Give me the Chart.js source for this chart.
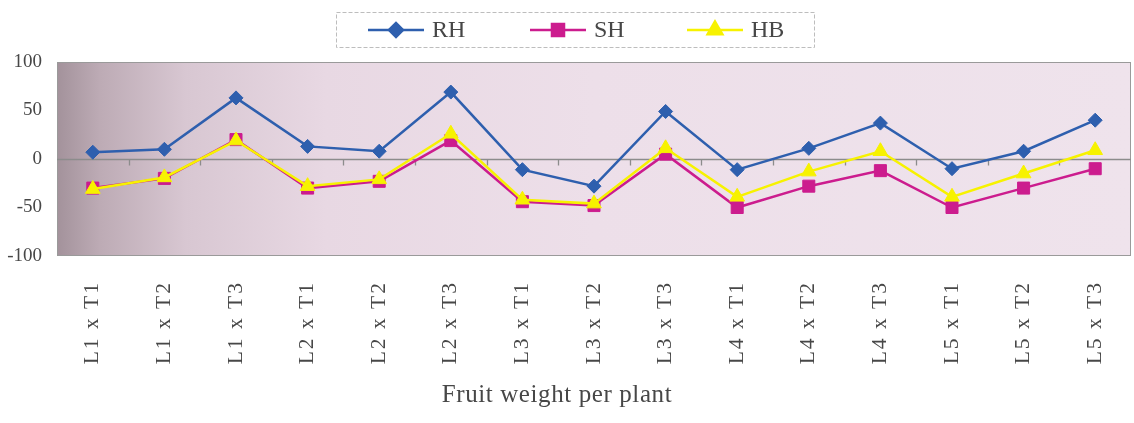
<!DOCTYPE html>
<html>
<head>
<meta charset="utf-8">
<title>Fruit weight per plant</title>
<script src="https://cdn.jsdelivr.net/npm/chart.js@4/dist/chart.umd.min.js"></script>
<style>
  html, body { margin: 0; padding: 0; background: #ffffff; }
  canvas { display: block; }
</style>
</head>
<body>
<canvas id="chart" width="1134" height="423"></canvas>
<script>
// Crosses (line x tester)
const categories = ['L1 x T1', 'L1 x T2', 'L1 x T3', 'L2 x T1', 'L2 x T2', 'L2 x T3',
                    'L3 x T1', 'L3 x T2', 'L3 x T3', 'L4 x T1', 'L4 x T2', 'L4 x T3',
                    'L5 x T1', 'L5 x T2', 'L5 x T3'];
// Heterosis (%) over relative, standard and better parent
const rhValues = [7, 10, 63, 13, 8, 69, -11, -28, 49, -11, 11, 37, -10, 8, 40];
const shValues = [-30, -20, 20, -30, -23, 19, -44, -48, 5, -50, -28, -12, -50, -30, -10];
const hbValues = [-31, -19, 19, -28, -21, 26, -42, -46, 11, -39, -13, 8, -39, -15, 9];
const seriesNames = ['RH', 'SH', 'HB'];
const yTicks = [-100, -50, 0, 50, 100];
const axisTitle = 'Fruit weight per plant';

const SERIF = '"Liberation Serif", "Times New Roman", serif';
const TEXT = '#474747';

const series = [
  { label: seriesNames[0], data: rhValues, color: '#2e5fae', pointStyle: 'rectRot', pointRadius: 7, order: 3 },
  { label: seriesNames[1], data: shValues, color: '#cc1c8e', pointStyle: 'rect', pointRadius: 8.5, order: 2 },
  { label: seriesNames[2], data: hbValues, color: '#f7f200', pointStyle: 'triangle', pointRadius: 8.5, order: 1 }
];

// Shaded plot area, frame and zero line with category ticks
const plotBackdrop = {
  id: 'plotBackdrop',
  beforeDatasetsDraw(chart) {
    const { ctx, chartArea: a, scales } = chart;
    ctx.save();
    const g = ctx.createLinearGradient(a.left, 0, a.right, 0);
    g.addColorStop(0, '#a3929b');
    g.addColorStop(0.04, '#bdabb5');
    g.addColorStop(0.12, '#d8c7d2');
    g.addColorStop(0.25, '#e8d8e3');
    g.addColorStop(0.5, '#eddfe9');
    g.addColorStop(1, '#efe3ec');
    ctx.fillStyle = g;
    ctx.fillRect(a.left, a.top, a.right - a.left, a.bottom - a.top);
    ctx.strokeStyle = '#9a9a9a';
    ctx.lineWidth = 1;
    ctx.strokeRect(a.left + 0.5, a.top + 0.5, a.right - a.left - 1, a.bottom - a.top - 1);
    const y0 = Math.round(scales.y.getPixelForValue(0)) + 0.5;
    ctx.strokeStyle = '#8c8c8c';
    ctx.lineWidth = 1.3;
    ctx.beginPath();
    ctx.moveTo(a.left, y0);
    ctx.lineTo(a.right, y0);
    const x = scales.x;
    for (let i = 0; i < categories.length - 1; i++) {
      const xm = Math.round((x.getPixelForValue(i) + x.getPixelForValue(i + 1)) / 2) + 0.5;
      ctx.moveTo(xm, y0);
      ctx.lineTo(xm, y0 + 6);
    }
    ctx.stroke();
    ctx.restore();
  },
  afterDatasetsDraw(chart) {
    // wider tracking for the rotated category labels drawn next
    chart.ctx.letterSpacing = '2px';
  },
  afterDraw(chart) {
    chart.ctx.letterSpacing = '0px';
  }
};

// Axis title and legend box with line + marker samples
const lineLegend = {
  id: 'lineLegend',
  afterDraw(chart) {
    const ctx = chart.ctx;
    ctx.save();
    ctx.fillStyle = TEXT;
    ctx.font = '25px ' + SERIF;
    ctx.letterSpacing = '0.6px';
    ctx.textAlign = 'center';
    ctx.textBaseline = 'alphabetic';
    ctx.fillText(axisTitle, 557, 402);

    ctx.letterSpacing = '0px';
    ctx.strokeStyle = '#bdbdbd';
    ctx.lineWidth = 1;
    ctx.setLineDash([4, 2]);
    ctx.strokeRect(336.5, 12.5, 478, 35);
    ctx.setLineDash([]);
    const starts = [368, 530, 687];
    const yc = 30;
    chart.data.datasets.forEach((ds, i) => {
      const x0 = starts[i];
      ctx.strokeStyle = ds.borderColor;
      ctx.lineWidth = 2.5;
      ctx.beginPath();
      ctx.moveTo(x0, yc);
      ctx.lineTo(x0 + 56, yc);
      ctx.stroke();
      ctx.fillStyle = ds.pointBackgroundColor;
      ctx.strokeStyle = ds.pointBorderColor;
      Chart.helpers.drawPoint(ctx, { pointStyle: ds.pointStyle, radius: ds.pointRadius, rotation: 0, borderWidth: 1 }, x0 + 28, yc);
      ctx.fillStyle = TEXT;
      ctx.font = '24px ' + SERIF;
      ctx.textBaseline = 'middle';
      ctx.textAlign = 'left';
      ctx.fillText(ds.label, x0 + 64, yc + 1);
    });
    ctx.restore();
  }
};

new Chart(document.getElementById('chart'), {
  type: 'line',
  data: {
    labels: categories,
    datasets: series.map(s => ({
      label: s.label,
      data: s.data,
      borderColor: s.color,
      backgroundColor: s.color,
      pointBackgroundColor: s.color,
      pointBorderColor: s.color,
      pointBorderWidth: 1,
      pointStyle: s.pointStyle,
      pointRadius: s.pointRadius,
      pointHoverRadius: s.pointRadius,
      borderWidth: 2.5,
      tension: 0,
      fill: false,
      order: s.order
    }))
  },
  options: {
    responsive: false,
    devicePixelRatio: 1,
    animation: false,
    events: [],
    layout: { autoPadding: false, padding: { top: 62, right: 3, left: 0, bottom: 0 } },
    plugins: {
      legend: { display: false },
      tooltip: { enabled: false },
      title: { display: false }
    },
    scales: {
      x: {
        type: 'category',
        offset: true,
        grid: { display: false, drawTicks: false },
        border: { display: false },
        ticks: {
          z: 1,
          autoSkip: false,
          minRotation: 90,
          maxRotation: 90,
          padding: 25,
          color: TEXT,
          font: { family: SERIF, size: 21.5 }
        },
        title: { display: false, text: axisTitle },
        afterFit(scale) {
          scale.height = 167;
          scale.paddingLeft = 0;
          scale.paddingRight = 0;
        }
      },
      y: {
        min: -100,
        max: 100,
        grid: { display: false, drawTicks: false },
        border: { display: false },
        afterBuildTicks(scale) { scale.ticks = yTicks.map(v => ({ value: v })); },
        ticks: {
          padding: 15,
          color: TEXT,
          font: { family: SERIF, size: 19 }
        },
        afterFit(scale) {
          scale.width = 57;
          scale.paddingTop = 0;
          scale.paddingBottom = 0;
        }
      }
    }
  },
  plugins: [plotBackdrop, lineLegend]
});
</script>
</body>
</html>
